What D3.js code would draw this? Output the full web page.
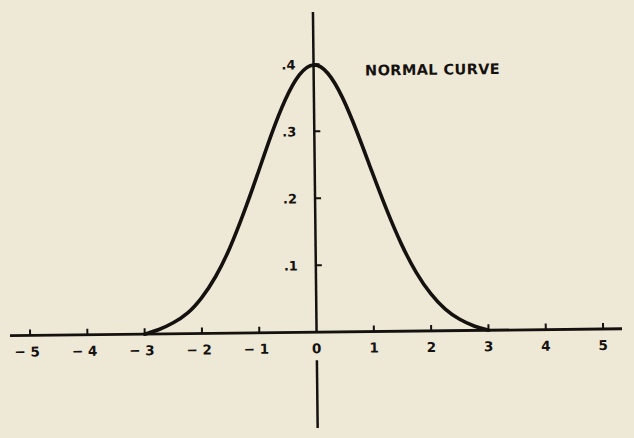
<!DOCTYPE html>
<html>
<head>
<meta charset="utf-8">
<script src="https://cdn.jsdelivr.net/npm/d3@7"></script>
<style>
  html, body { margin: 0; padding: 0; background: #eee8d6; }
  svg { display: block; }
  .lbl { font-family: "DejaVu Sans", "Liberation Sans", Arial, sans-serif; font-weight: bold; fill: #14110f; }
</style>
</head>
<body>
<div id="chart"></div>
<script>
// values
const xTicks = [-5, -4, -3, -2, -1, 0, 1, 2, 3, 4, 5]
const yTicks = [0.1, 0.2, 0.3, 0.4]
const curveX = [-3, -2.75, -2.5, -2.25, -2, -1.75, -1.5, -1.25, -1, -0.75, -0.5, -0.25, 0,
  0.25, 0.5, 0.75, 1, 1.25, 1.5, 1.75, 2, 2.25, 2.5, 2.75, 3]
const curveY = [0, 0.006, 0.016, 0.029, 0.052, 0.083, 0.125, 0.178, 0.236, 0.297, 0.35, 0.388, 0.404,
  0.39, 0.352, 0.298, 0.238, 0.18, 0.128, 0.086, 0.054, 0.031, 0.016, 0.006, 0]
const title = 'NORMAL CURVE'

const width = 634
const height = 438
const ink = '#14110f'

const svg = d3.select('#chart').append('svg')
  .attr('width', width)
  .attr('height', height)

svg.append('rect')
  .attr('width', width)
  .attr('height', height)
  .attr('fill', '#eee8d6')

// scan is a little skewed
const g = svg.append('g')
  .attr('transform', 'rotate(-0.65, 316, 332)')

const x = d3.scaleLinear().domain([-5.35, 5.33]).range([10, 622])
const y = d3.scaleLinear().domain([-0.143, 0.478]).range([428, 12])

// horizontal axis
g.append('line')
  .attr('x1', x(-5.35)).attr('x2', x(5.33))
  .attr('y1', y(0)).attr('y2', y(0))
  .attr('stroke', ink).attr('stroke-width', 2.8)

g.selectAll('line.xtick')
  .data(xTicks.filter(d => d !== 0))
  .enter().append('line')
  .attr('class', 'xtick')
  .attr('x1', d => x(d)).attr('x2', d => x(d))
  .attr('y1', y(0)).attr('y2', y(0) - 6)
  .attr('stroke', ink).attr('stroke-width', 2)

g.selectAll('text.xlab')
  .data(xTicks)
  .enter().append('text')
  .attr('class', 'lbl xlab')
  .attr('x', d => x(d) - (d < 0 ? 3 : 0))
  .attr('y', y(0) + 21)
  .attr('text-anchor', 'middle')
  .attr('font-size', 13.5)
  .text(d => d < 0 ? '\u2212 ' + Math.abs(d) : String(d))

// vertical axis, broken where the 0 label sits
const yAxisParts = [[0.478, 0], [-0.042, -0.143]]
g.selectAll('line.yaxis')
  .data(yAxisParts)
  .enter().append('line')
  .attr('class', 'yaxis')
  .attr('x1', x(0)).attr('x2', x(0))
  .attr('y1', d => y(d[0])).attr('y2', d => y(d[1]))
  .attr('stroke', ink).attr('stroke-width', 2.5)

g.selectAll('line.ytick')
  .data(yTicks)
  .enter().append('line')
  .attr('class', 'ytick')
  .attr('x1', x(0)).attr('x2', x(0) + 6)
  .attr('y1', d => y(d)).attr('y2', d => y(d))
  .attr('stroke', ink).attr('stroke-width', 2)

g.selectAll('text.ylab')
  .data(yTicks)
  .enter().append('text')
  .attr('class', 'lbl ylab')
  .attr('x', x(0) - 18)
  .attr('y', d => y(d) + 5)
  .attr('text-anchor', 'end')
  .attr('font-size', 13)
  .text(d => String(d).replace('0.', '.'))

// the curve
const line = d3.line()
  .x(d => x(d[0]))
  .y(d => y(d[1]))
  .curve(d3.curveBasis)

g.append('path')
  .datum(d3.zip(curveX, curveY))
  .attr('d', line)
  .attr('fill', 'none')
  .attr('stroke', ink)
  .attr('stroke-width', 3.6)
  .attr('stroke-linecap', 'round')

g.append('text')
  .attr('class', 'lbl')
  .attr('x', 368)
  .attr('y', 76)
  .attr('font-size', 14.5)
  .attr('letter-spacing', 0.4)
  .text(title)
</script>
</body>
</html>
